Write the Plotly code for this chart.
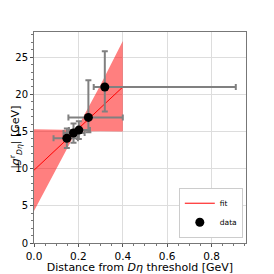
import plotly.graph_objects as go

# data points
x_data = [0.148, 0.178, 0.202, 0.245, 0.319]
y_data = [14.1, 14.8, 15.2, 16.9, 21.0]
x_err_minus = [0.06, 0.045, 0.045, 0.09, 0.05]
x_err_plus = [0.05, 0.05, 0.05, 0.155, 0.59]
y_err_minus = [1.3, 1.3, 1.2, 2.0, 3.3]
y_err_plus = [1.3, 1.3, 1.2, 5.0, 4.8]

# fit line
fit_x = [0.0, 0.4]
fit_y = [9.8, 21.0]

# uncertainty band
band_x = [0.0, 0.1, 0.19, 0.3, 0.4]
band_upper = [15.3, 15.25, 15.2, 21.3, 27.2]
band_lower = [4.3, 10.0, 15.0, 15.05, 15.0]

fig = go.Figure()
fig.add_trace(go.Scatter(
    x=band_x + band_x[::-1], y=band_upper + band_lower[::-1],
    fill="toself", fillcolor="rgba(255,0,0,0.5)", line=dict(width=0),
    mode="lines", showlegend=False, hoverinfo="skip"))
fig.add_trace(go.Scatter(x=fit_x, y=fit_y, mode="lines", name="fit",
                         line=dict(color="red", width=1)))
fig.add_trace(go.Scatter(
    x=x_data, y=y_data, mode="markers", name="data",
    marker=dict(color="black", size=9),
    error_x=dict(type="data", symmetric=False, array=x_err_plus, arrayminus=x_err_minus,
                 color="gray", thickness=2, width=3),
    error_y=dict(type="data", symmetric=False, array=y_err_plus, arrayminus=y_err_minus,
                 color="gray", thickness=2, width=3)))

axis_common = dict(showline=True, linecolor="#777777", linewidth=1, mirror=True,
                   showgrid=True, gridcolor="#dddddd", gridwidth=1, zeroline=False,
                   ticks="outside", ticklen=3, tickcolor="#555555", automargin=False,
                   tickfont=dict(size=10.5, color="black"),
                   minor=dict(ticks="outside", ticklen=2, tickcolor="#777777", showgrid=False))

fig.update_xaxes(range=[0, 0.955], tickvals=[0, 0.2, 0.4, 0.6, 0.8],
                 ticktext=["0.0", "0.2", "0.4", "0.6", "0.8"],
                 title=dict(text="Distance from <i>Dη</i> threshold [GeV]", font=dict(size=11), standoff=0),
                 minor_dtick=0.05, **axis_common)
fig.update_yaxes(range=[0, 28.4], tickvals=[0, 5, 10, 15, 20, 25],
                 tickfont=dict(size=10, color="black"),
                 minor_dtick=1, **{k: v for k, v in axis_common.items() if k != "tickfont"})

fig.add_annotation(text="|<i>g</i><sup>r</sup><sub><i>Dη</i></sub>| [GeV]", xref="paper", yref="paper",
                   x=-0.088, y=0.5, xanchor="center", yanchor="middle", showarrow=False,
                   textangle=-90, font=dict(size=11))

fig.update_layout(
    width=266, height=266, margin=dict(l=26, r=28, t=24, b=31),
    paper_bgcolor="white", plot_bgcolor="white",
    font=dict(family="DejaVu Sans", color="black"),
    legend=dict(x=0.985, y=0.025, xanchor="right", yanchor="bottom",
                bordercolor="#cccccc", borderwidth=1, bgcolor="white",
                font=dict(size=7.5), itemwidth=30, tracegroupgap=0),
)

fig.write_html("out.html")
